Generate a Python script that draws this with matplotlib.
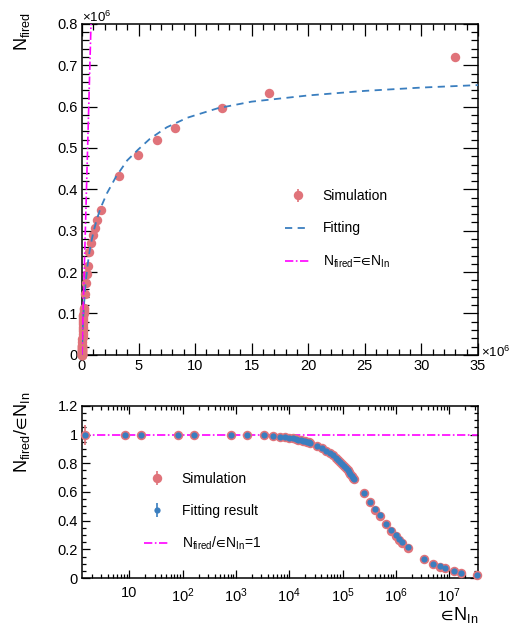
import numpy as np
import matplotlib
matplotlib.use('Agg')
import matplotlib.pyplot as plt
from matplotlib.ticker import (FixedLocator, MultipleLocator, LogLocator,
                               FuncFormatter, NullFormatter)

plt.rcParams['font.family'] = ['Liberation Sans', 'DejaVu Sans']
plt.rcParams['mathtext.fontset'] = 'custom'
plt.rcParams['mathtext.rm'] = 'Liberation Sans'
plt.rcParams['mathtext.it'] = 'Liberation Sans:italic'
plt.rcParams['mathtext.bf'] = 'Liberation Sans:bold'
plt.rcParams['mathtext.fallback'] = 'stixsans'

# incoming (efficiency weighted) photons
eps_Nin = [1.5, 8.25, 16.5, 82.5, 165, 825, 1650, 3300, 4950,
           6600, 8250, 9900, 11550, 13200, 14850, 16500, 18150, 19800,
           21450, 23100, 24750,
           33000, 41250, 49500, 57750, 66000, 74250, 82500, 90750, 99000,
           107250, 115500, 123750, 132000, 140250, 148500, 156750, 165000,
           247500, 330000, 412500, 495000, 660000, 825000, 990000,
           1155000, 1320000, 1650000,
           3300000, 4950000, 6600000, 8250000, 12375000, 16500000, 33000000]

# simulated N_fired / eps*N_in
ratio_sim = [1.0, 1.0, 1.0, 1.0, 1.0, 1.0, 0.998, 0.995, 0.99,
             0.984, 0.980, 0.976, 0.973, 0.969, 0.965, 0.961, 0.957, 0.953,
             0.950, 0.946, 0.942,
             0.924, 0.906, 0.889, 0.872, 0.856, 0.840, 0.824, 0.809, 0.794,
             0.779, 0.765, 0.752, 0.738, 0.725, 0.713, 0.700, 0.688,
             0.595, 0.528, 0.475, 0.435, 0.375, 0.328, 0.293,
             0.265, 0.246, 0.212,
             0.131, 0.0975, 0.0785, 0.0665, 0.0482, 0.0383, 0.0218]
ratio_err = [0.07] + [0.0] * (len(eps_Nin) - 1)

# fit result evaluated at the same points
ratio_fit = ratio_sim[:38] + [0.590, 0.530, 0.480, 0.440, 0.378, 0.332, 0.298,
                              0.272, 0.250, 0.215,
                              0.133, 0.0996, 0.0803, 0.0673, 0.0482, 0.0373, 0.0197]

# fitted curve
fit_x = [0, 0.05e6, 0.1e6, 0.165e6, 0.25e6, 0.33e6, 0.5e6, 0.66e6, 0.83e6, 1.0e6,
         1.3e6, 1.65e6, 2.2e6, 3.0e6, 4.0e6, 5.0e6, 6.0e6, 7.5e6, 9.3e6, 12e6,
         15e6, 20e6, 25e6, 30e6, 35e6]
fit_y = [0, 0.047e6, 0.085e6, 0.114e6, 0.148e6, 0.175e6, 0.217e6, 0.248e6,
         0.273e6, 0.295e6, 0.326e6, 0.355e6, 0.39e6, 0.43e6, 0.47e6, 0.497e6,
         0.522e6, 0.55e6, 0.573e6, 0.596e6, 0.612e6, 0.627e6, 0.638e6, 0.646e6,
         0.652e6]

# N_fired = eps*N_in reference
ident_x = [0, 0.8e6]

pink = '#e0737a'
blue = '#3a7ebf'
magenta = '#ff00ff'

x = np.array(eps_Nin)
r_sim = np.array(ratio_sim)
r_err = np.array(ratio_err)
r_fit = np.array(ratio_fit)
n_fired = r_sim * x

fig = plt.figure(figsize=(5.09, 6.28), dpi=100)
ax1 = fig.add_axes([0.161, 0.435, 0.778, 0.527])
ax2 = fig.add_axes([0.161, 0.0796, 0.778, 0.274])

lab_nf = r'N$_{\mathrm{fired}}$'
lab_en = r'$\!\in\!$N$_{\mathrm{In}}$'

# ---- upper panel: N_fired vs eps*N_in
h_sim = ax1.errorbar(x / 1e6, n_fired / 1e6, yerr=r_err * x / 1e6, fmt='o',
                     color=pink, ms=6.8, mew=0, elinewidth=1.2, capsize=2,
                     clip_on=False, zorder=3)
h_fit, = ax1.plot(np.array(fit_x) / 1e6, np.array(fit_y) / 1e6, color=blue,
                  ls=(0, (4, 3)), lw=1.3, zorder=4)
h_id, = ax1.plot(np.array(ident_x) / 1e6, np.array(ident_x) / 1e6,
                 color=magenta, ls=(0, (5, 1.5, 1, 1.5)), lw=1.2, zorder=5)
ax1.set_xlim(0, 35)
ax1.set_ylim(0, 0.8)
ax1.xaxis.set_major_locator(MultipleLocator(5))
ax1.xaxis.set_minor_locator(MultipleLocator(1))
ax1.yaxis.set_major_locator(MultipleLocator(0.1))
ax1.yaxis.set_minor_locator(MultipleLocator(0.02))
fmt = FuncFormatter(lambda v, p: '%g' % round(v, 3))
ax1.xaxis.set_major_formatter(fmt)
ax1.yaxis.set_major_formatter(fmt)
ax1.legend([h_sim, h_fit, h_id], ['Simulation', 'Fitting', lab_nf + '=' + lab_en],
           loc='upper left', bbox_to_anchor=(0.513, 0.50), frameon=False,
           fontsize=10, labelspacing=1.3, handlelength=1.8, handletextpad=0.9,
           borderpad=0, borderaxespad=0)

# ---- lower panel: ratio vs eps*N_in
ax2.axhline(1.0, color=magenta, ls=(0, (5, 1.5, 1, 1.5)), lw=1.2, zorder=2)
h_rs = ax2.errorbar(x, r_sim, yerr=r_err, fmt='o', color=pink, ms=6.8, mew=0,
                    elinewidth=1.2, capsize=2, clip_on=False, zorder=3)
h_rf = ax2.errorbar(x, r_fit, yerr=np.zeros_like(r_fit), fmt='o', color=blue,
                    ms=4.5, mew=0, elinewidth=1.2, capsize=2, clip_on=False,
                    zorder=4)
h_one, = ax2.plot([], [], color=magenta, ls=(0, (5, 1.5, 1, 1.5)), lw=1.2)
ax2.set_xscale('log')
ax2.set_xlim(1.3, 3.45e7)
ax2.set_ylim(0, 1.2)
ax2.xaxis.set_major_locator(FixedLocator([10 ** k for k in range(1, 8)]))
ax2.xaxis.set_minor_locator(LogLocator(base=10, subs=range(2, 10), numticks=30))
ax2.xaxis.set_minor_formatter(NullFormatter())
ax2.xaxis.set_major_formatter(FuncFormatter(
    lambda v, p: '10' if round(np.log10(v)) == 1 else r'10$^{%d}$' % round(np.log10(v))))
ax2.yaxis.set_major_locator(MultipleLocator(0.2))
ax2.yaxis.set_minor_locator(MultipleLocator(0.05))
ax2.yaxis.set_major_formatter(fmt)
ax2.legend([h_rs, h_rf, h_one], ['Simulation', 'Fitting result',
                                 lab_nf + '/' + lab_en + '=1'],
           loc='upper left', bbox_to_anchor=(0.157, 0.615), frameon=False,
           fontsize=10, labelspacing=1.25, handlelength=1.8, handletextpad=0.9,
           borderpad=0, borderaxespad=0)

for ax in (ax1, ax2):
    for s in ax.spines.values():
        s.set_linewidth(1.1)
    ax.tick_params(which='both', direction='in', top=True, right=True,
                   labelsize=10.5, width=0.9, pad=3)
ax1.tick_params(axis='y', which='major', length=10.5)
ax1.tick_params(axis='y', which='minor', length=5)
ax1.tick_params(axis='x', which='major', length=8.5)
ax1.tick_params(axis='x', which='minor', length=4.3)
ax2.tick_params(axis='y', which='major', length=6)
ax2.tick_params(axis='y', which='minor', length=3)
ax2.tick_params(axis='x', which='major', length=6, pad=6)
ax2.tick_params(axis='x', which='minor', length=3)

# axis titles and multipliers
fig.text(22 / 509, 1 - 12 / 628, lab_nf, rotation=90, ha='center', va='top',
         fontsize=13)
fig.text(22 / 509, 1 - 392 / 628, lab_nf + '/' + lab_en, rotation=90,
         ha='center', va='top', fontsize=13)
fig.text(478 / 509, 1 - 620 / 628, lab_en, ha='right', va='baseline', fontsize=13)
fig.text(82 / 509, 1 - 22 / 628, r'×10$^{6}$', ha='left', va='baseline',
         fontsize=9.5)
fig.text(481 / 509, 1 - 357 / 628, r'×10$^{6}$', ha='left', va='baseline',
         fontsize=9.5)

fig.savefig('out.png', dpi=100)
